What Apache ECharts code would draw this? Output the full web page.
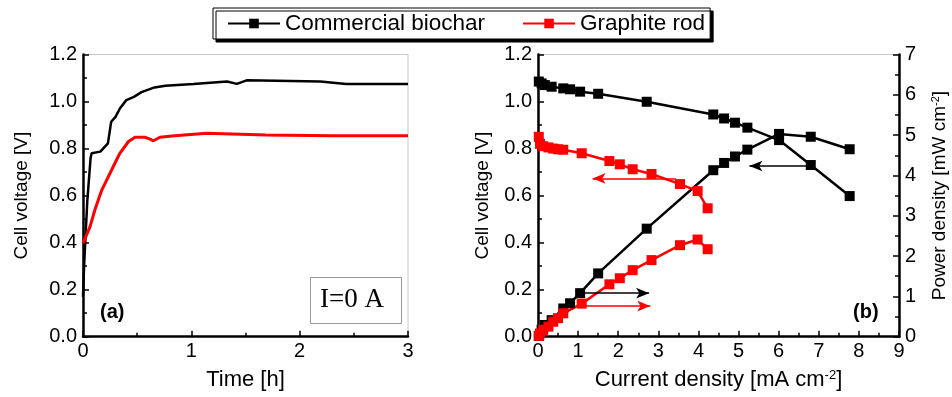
<!DOCTYPE html>
<html>
<head>
<meta charset="utf-8">
<script src="https://cdn.jsdelivr.net/npm/echarts@6/dist/echarts.min.js"></script>
<style>
  html, body { margin: 0; padding: 0; background: #fff; }
  #chart { width: 952px; height: 397px; }
</style>
</head>
<body>
<div id="chart"></div>
<script>
// (a) open-circuit voltage vs time
const timeBiochar = [0, 0.01, 0.04, 0.07, 0.08, 0.16, 0.23, 0.26, 0.30, 0.34, 0.40, 0.47, 0.54, 0.66, 0.76, 1.02, 1.33, 1.42, 1.51, 2.19, 2.43, 3.0]
const voltBiochar = [0.17, 0.30, 0.58, 0.76, 0.78, 0.787, 0.822, 0.914, 0.935, 0.97, 1.006, 1.02, 1.04, 1.06, 1.067, 1.075, 1.085, 1.075, 1.09, 1.085, 1.075, 1.075]
const timeGraphite = [0, 0.065, 0.11, 0.17, 0.265, 0.34, 0.42, 0.48, 0.57, 0.62, 0.65, 0.71, 0.82, 1.14, 1.69, 2.3, 3.0]
const voltGraphite = [0.397, 0.468, 0.54, 0.62, 0.71, 0.78, 0.83, 0.848, 0.848, 0.84, 0.833, 0.848, 0.853, 0.865, 0.858, 0.855, 0.855]

// (b) polarization + power curves
const jBiochar = [0.02, 0.09, 0.17, 0.34, 0.63, 0.80, 1.05, 1.50, 2.71, 4.37, 4.64, 4.91, 5.22, 6.01, 6.80, 7.77]
const vBiochar = [1.085, 1.077, 1.07, 1.063, 1.056, 1.052, 1.042, 1.033, 0.999, 0.945, 0.928, 0.91, 0.889, 0.836, 0.73, 0.598]
const pBiochar = [0.02, 0.17, 0.29, 0.41, 0.70, 0.83, 1.08, 1.57, 2.68, 4.13, 4.31, 4.47, 4.64, 5.03, 4.96, 4.65]
const jGraphite = [0.02, 0.05, 0.13, 0.26, 0.38, 0.50, 0.63, 1.09, 1.78, 2.04, 2.36, 2.83, 3.54, 3.98, 4.23]
const vGraphite = [0.85, 0.82, 0.81, 0.805, 0.80, 0.797, 0.795, 0.78, 0.747, 0.733, 0.712, 0.692, 0.649, 0.619, 0.546]
const pGraphite = [0.02, 0.08, 0.17, 0.25, 0.37, 0.46, 0.58, 0.82, 1.30, 1.45, 1.65, 1.90, 2.27, 2.41, 2.17]

// arrows [xFrom, xTo, y]
const arrowVoltBiochar = [6.68, 5.27, 0.726]
const arrowVoltGraphite = [3.44, 1.36, 0.673]
const arrowPowBiochar = [1.11, 2.77, 1.08]
const arrowPowGraphite = [1.11, 2.80, 0.76]

const FONT = 'Liberation Sans'
const zip = (xs, ys) => xs.map((x, i) => [x, ys[i]])

function arrow(a, color) {
  return {
    silent: true,
    symbol: ['none', 'arrow'],
    symbolSize: [8, 13],
    label: { show: false },
    lineStyle: { color: color, width: 1.5, type: 'solid' },
    emphasis: { disabled: true },
    data: [[{ coord: [a[0], a[2]] }, { coord: [a[1], a[2]] }]]
  }
}

function nameStyle(size) {
  return {
    fontSize: size, fontFamily: FONT, color: '#000',
    rich: { sup: { fontSize: Math.round(size * 0.6), verticalAlign: 'top', lineHeight: 12, fontFamily: FONT, color: '#000' } }
  }
}

function xAxisOf(grid, max, name) {
  return {
    type: 'value',
    gridIndex: grid,
    min: 0,
    max: max,
    interval: 1,
    name: name,
    nameLocation: 'middle',
    nameGap: 32,
    nameTextStyle: nameStyle(22),
    axisLine: { lineStyle: { color: '#000', width: 2.5 } },
    axisTick: { inside: true, length: 6, lineStyle: { width: 1.5, color: '#000' } },
    minorTick: { show: true, splitNumber: 2, length: 4, lineStyle: { width: 1.5, color: '#000' } },
    axisLabel: { fontSize: 20, fontFamily: FONT, color: '#000', margin: 5 },
    splitLine: { show: false }
  }
}

function yAxisOf(grid, max, interval, name, pos, gap, fmt) {
  return {
    type: 'value',
    gridIndex: grid,
    position: pos,
    min: 0,
    max: max,
    interval: interval,
    name: name,
    nameLocation: 'middle',
    nameGap: gap,
    nameTextStyle: nameStyle(19),
    axisLine: { show: true, lineStyle: { color: '#000', width: 2.5 } },
    axisTick: { inside: true, length: 6, lineStyle: { width: 1.5, color: '#000' } },
    minorTick: { show: true, splitNumber: 2, length: 4, lineStyle: { width: 1.5, color: '#000' } },
    axisLabel: { fontSize: 20, fontFamily: FONT, color: '#000', margin: 6, formatter: fmt },
    splitLine: { show: false }
  }
}

const chart = echarts.init(document.getElementById('chart'))
chart.setOption({
  animation: false,
  backgroundColor: '#fff',
  textStyle: { fontFamily: FONT },
  legend: {
    data: ['Commercial biochar', 'Graphite rod'],
    left: 213,
    top: 8,
    padding: [4, 5, 4, 14],
    itemWidth: 52,
    itemHeight: 12,
    itemGap: 37,
    backgroundColor: '#fff',
    borderColor: '#000',
    borderWidth: 1,
    shadowColor: '#000',
    shadowBlur: 0,
    shadowOffsetX: 3,
    shadowOffsetY: 3,
    selectedMode: false,
    textStyle: { fontSize: 22.5, fontFamily: FONT, color: '#000' }
  },
  grid: [
    { left: 83, right: 544, top: 54.5, bottom: 60.3, show: true, borderColor: '#c8c8c8', borderWidth: 1 },
    { left: 538, right: 53, top: 54.5, bottom: 60.3, show: true, borderColor: '#c8c8c8', borderWidth: 1 }
  ],
  xAxis: [
    xAxisOf(0, 3, 'Time [h]'),
    xAxisOf(1, 9, 'Current density [mA cm{sup|-2}]')
  ],
  yAxis: [
    yAxisOf(0, 1.2, 0.2, 'Cell voltage [V]', 'left', 52, v => v.toFixed(1)),
    yAxisOf(1, 1.2, 0.2, 'Cell voltage [V]', 'left', 46, v => v.toFixed(1)),
    yAxisOf(1, 7, 1, 'Power density [mW cm{sup|-2}]', 'right', 31, v => v)
  ],
  series: [
    {
      name: 'Commercial biochar', type: 'line', xAxisIndex: 1, yAxisIndex: 1,
      data: zip(jBiochar, vBiochar), symbol: 'rect', symbolSize: 10,
      itemStyle: { color: '#000' }, lineStyle: { color: '#000', width: 2.5 },
      markLine: arrow(arrowVoltBiochar, '#000')
    },
    {
      name: 'Commercial biochar', type: 'line', xAxisIndex: 1, yAxisIndex: 2,
      data: zip(jBiochar, pBiochar), symbol: 'rect', symbolSize: 10,
      itemStyle: { color: '#000' }, lineStyle: { color: '#000', width: 2.5 },
      markLine: arrow(arrowPowBiochar, '#000')
    },
    {
      name: 'Graphite rod', type: 'line', xAxisIndex: 1, yAxisIndex: 1,
      data: zip(jGraphite, vGraphite), symbol: 'rect', symbolSize: 10,
      itemStyle: { color: '#f00' }, lineStyle: { color: '#f00', width: 2.5 },
      markLine: arrow(arrowVoltGraphite, '#f00')
    },
    {
      name: 'Graphite rod', type: 'line', xAxisIndex: 1, yAxisIndex: 2,
      data: zip(jGraphite, pGraphite), symbol: 'rect', symbolSize: 10,
      itemStyle: { color: '#f00' }, lineStyle: { color: '#f00', width: 2.5 },
      markLine: arrow(arrowPowGraphite, '#f00')
    },
    {
      name: 'Commercial biochar', type: 'line', xAxisIndex: 0, yAxisIndex: 0,
      data: zip(timeBiochar, voltBiochar), showSymbol: false, symbol: 'rect',
      itemStyle: { color: '#000' }, lineStyle: { color: '#000', width: 2.5 }
    },
    {
      name: 'Graphite rod', type: 'line', xAxisIndex: 0, yAxisIndex: 0,
      data: zip(timeGraphite, voltGraphite), showSymbol: false, symbol: 'rect',
      itemStyle: { color: '#f00' }, lineStyle: { color: '#f00', width: 3 }
    }
  ],
  graphic: [
    { type: 'text', left: 100, top: 302, style: { text: '(a)', fontSize: 20, fontWeight: 'bold', fontFamily: FONT, fill: '#000' } },
    { type: 'text', left: 853, top: 302, style: { text: '(b)', fontSize: 20, fontWeight: 'bold', fontFamily: FONT, fill: '#000' } },
    { type: 'rect', left: 310, top: 277, shape: { width: 91, height: 46 }, style: { fill: '#fff', stroke: '#999', lineWidth: 1 } },
    { type: 'text', left: 320, top: 286, style: { text: 'I=0 A', fontSize: 27, fontFamily: 'Liberation Serif', fill: '#000' } }
  ]
})
</script>
</body>
</html>
